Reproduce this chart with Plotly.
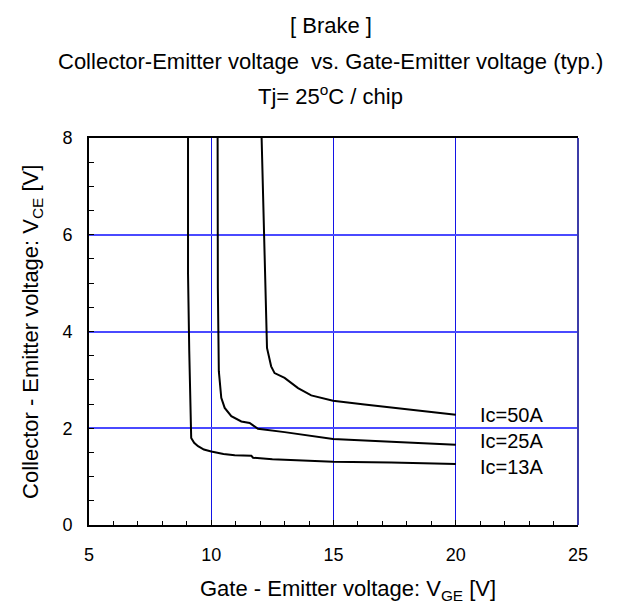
import plotly.graph_objects as go

# ---- data ----
vge_13 = [9.05, 9.05, 9.10, 9.14, 9.18, 9.30, 9.46, 9.70, 10.0, 10.5, 10.96, 11.64, 11.71, 12.5, 13.28, 14.98, 17.36, 20.0]
vce_13 = [8.00, 5.20, 3.60, 2.50, 1.80, 1.70, 1.63, 1.56, 1.52, 1.47, 1.44, 1.43, 1.39, 1.36, 1.34, 1.31, 1.29, 1.26]

vge_25 = [10.26, 10.27, 10.31, 10.41, 10.55, 10.82, 11.23, 11.57, 11.71, 11.91, 13.0, 14.98, 17.36, 20.0]
vce_25 = [8.00, 4.90, 3.18, 2.63, 2.42, 2.25, 2.14, 2.11, 2.06, 1.99, 1.92, 1.78, 1.72, 1.66]

vge_50 = [12.06, 12.22, 12.28, 12.45, 12.59, 13.0, 13.55, 14.09, 14.98, 16.27, 18.04, 20.0]
vce_50 = [8.00, 4.90, 3.66, 3.28, 3.14, 3.04, 2.83, 2.68, 2.57, 2.49, 2.39, 2.28]

series_names = ["Ic=13A", "Ic=25A", "Ic=50A"]
x_ticks = [5, 10, 15, 20, 25]
y_ticks = [0, 2, 4, 6, 8]

FONT = "Liberation Sans, Arial, sans-serif"

fig = go.Figure()
for xs, ys, name in [(vge_13, vce_13, series_names[0]),
                     (vge_25, vce_25, series_names[1]),
                     (vge_50, vce_50, series_names[2])]:
    fig.add_trace(go.Scatter(x=xs, y=ys, mode="lines", name=name,
                             line=dict(color="black", width=2),
                             showlegend=False, hoverinfo="skip"))

# curve labels (placed to the right of each curve end)
label_pos = {"Ic=50A": 2.28, "Ic=25A": 1.74, "Ic=13A": 1.20}
for name, yv in label_pos.items():
    fig.add_annotation(x=20.9, y=yv, xref="x", yref="y", text=name,
                       showarrow=False, xanchor="left", yanchor="middle",
                       font=dict(family=FONT, size=20, color="black"))

# titles
title_lines = ["[ Brake ]",
               "Collector-Emitter voltage  vs. Gate-Emitter voltage (typ.)",
               "Tj= 25<sup>o</sup>C / chip"]
for txt, yv in zip(title_lines, [1.290, 1.198, 1.112]):
    fig.add_annotation(x=0.494, y=yv, xref="paper", yref="paper", text=txt,
                       showarrow=False, xanchor="center", yanchor="middle",
                       font=dict(family=FONT, size=22, color="black"))

fig.add_annotation(x=0.53, y=-0.169, xref="paper", yref="paper",
                   text="Gate - Emitter voltage: V<sub>GE</sub> [V]",
                   showarrow=False, xanchor="center", yanchor="middle",
                   font=dict(family=FONT, size=22, color="black"))
fig.add_annotation(x=-0.1176, y=0.5, xref="paper", yref="paper",
                   text="Collector - Emitter voltage: V<sub>CE</sub> [V]",
                   textangle=-90, showarrow=False, xanchor="center", yanchor="middle",
                   font=dict(family=FONT, size=22, color="black"))

# right border (navy)
fig.add_shape(type="line", xref="paper", yref="paper", x0=1, x1=1, y0=0, y1=1,
              line=dict(color="#3c3ca8", width=2))

fig.update_xaxes(range=[5, 25], tickvals=x_ticks, ticktext=[str(v) for v in x_ticks],
                 showgrid=True, gridcolor="#1414e6", gridwidth=1,
                 showline=True, linecolor="black", linewidth=2, mirror=True,
                 ticks="inside", ticklen=5, tickcolor="black",
                 minor=dict(dtick=1, ticks="inside", ticklen=4, tickcolor="black", showgrid=False),
                 zeroline=False, ticklabelstandoff=12,
                 tickfont=dict(family=FONT, size=18, color="black"), fixedrange=True)
fig.update_yaxes(range=[0, 8], tickvals=y_ticks, ticktext=[str(v) for v in y_ticks],
                 showgrid=True, gridcolor="#4a4aff", gridwidth=1.5,
                 showline=True, linecolor="black", linewidth=2, mirror=False,
                 ticks="inside", ticklen=5, tickcolor="black",
                 minor=dict(dtick=0.5, ticks="inside", ticklen=5, tickcolor="black", showgrid=False),
                 zeroline=False, ticklabelstandoff=11,
                 tickfont=dict(family=FONT, size=18, color="black"), fixedrange=True)

fig.update_layout(width=618, height=605, plot_bgcolor="white", paper_bgcolor="white",
                  margin=dict(l=81, r=48, t=130, b=88), showlegend=False)

fig.write_html("out.html")
